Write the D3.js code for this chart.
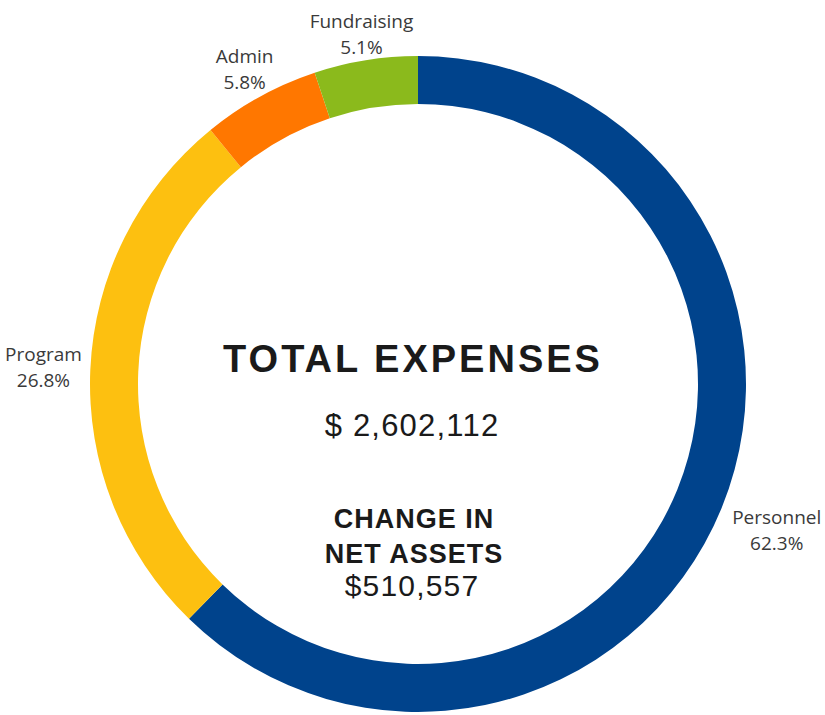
<!DOCTYPE html>
<html>
<head>
<meta charset="utf-8">
<script src="https://cdn.jsdelivr.net/npm/d3@7"></script>
<style>
  body { margin: 0; background: #fff; }
  .label { font-family: "Open Sans", Roboto, sans-serif; font-size: 19px; fill: #3a3a3a; }
  .center { font-family: "Liberation Sans", Arial, sans-serif; fill: #1a1a1a; }
</style>
</head>
<body>
<div id="donut"></div>
<script>
var width = 825;
var height = 715;
var cx = 418;
var cy = 384;
var outer = 328;
var inner = 280;

var categories = ["Personnel", "Program", "Admin", "Fundraising"];
var percents = [62.3, 26.8, 5.8, 5.1];
var colors = ["#00438c", "#fdc010", "#ff7700", "#8bba1c"];

var totalTitle = "TOTAL EXPENSES";
var totalValue = "$ 2,602,112";
var changeTitle = ["CHANGE IN", "NET ASSETS"];
var changeValue = "$510,557";

var data = categories.map(function (c, i) {
  return { name: c, value: percents[i], color: colors[i] };
});

var svg = d3.select("#donut")
  .append("svg")
  .attr("width", width)
  .attr("height", height);

var g = svg.append("g").attr("transform", "translate(" + cx + "," + cy + ")");

var pie = d3.pie().sort(null).value(function (d) { return d.value; });
var arc = d3.arc().innerRadius(inner).outerRadius(outer);
var arcs = pie(data);

g.selectAll("path.slice")
  .data(arcs)
  .enter()
  .append("path")
  .attr("class", "slice")
  .attr("d", arc)
  .attr("fill", function (d) { return d.data.color; });

// labels outside the ring, pushed out by half their width, kept inside the page
var labels = g.selectAll("g.lbl")
  .data(arcs)
  .enter()
  .append("g")
  .attr("class", "lbl");

labels.append("text")
  .attr("class", "label")
  .attr("text-anchor", "middle")
  .attr("y", -6)
  .text(function (d) { return d.data.name; });

labels.append("text")
  .attr("class", "label")
  .attr("text-anchor", "middle")
  .attr("y", 20)
  .text(function (d) { return d.data.value.toFixed(1) + "%"; });

labels.attr("transform", function (d) {
  var a = (d.startAngle + d.endAngle) / 2;
  var w = this.getBBox().width;
  var r = outer + 18 + Math.abs(Math.sin(a)) * w / 2;
  var x = r * Math.sin(a);
  var y = -r * Math.cos(a);
  x = Math.max(x, -cx + 5 + w / 2);
  x = Math.min(x, width - cx - 3 - w / 2);
  return "translate(" + x + "," + y + ")";
});

// center text
var ct = svg.append("g").attr("class", "center");

ct.append("text")
  .attr("x", 413)
  .attr("y", 372)
  .attr("text-anchor", "middle")
  .style("font-size", "38px")
  .style("font-weight", "bold")
  .style("letter-spacing", "3px")
  .text(totalTitle);

ct.append("text")
  .attr("x", 412)
  .attr("y", 436)
  .attr("text-anchor", "middle")
  .style("font-size", "31px")
  .style("letter-spacing", "1.2px")
  .text(totalValue);

ct.selectAll("text.chg")
  .data(changeTitle)
  .enter()
  .append("text")
  .attr("class", "chg")
  .attr("x", 414)
  .attr("y", function (d, i) { return 528 + i * 35; })
  .attr("text-anchor", "middle")
  .style("font-size", "27px")
  .style("font-weight", "bold")
  .style("letter-spacing", "1px")
  .text(function (d) { return d; });

ct.append("text")
  .attr("x", 412)
  .attr("y", 596)
  .attr("text-anchor", "middle")
  .style("font-size", "30px")
  .style("letter-spacing", "1.2px")
  .text(changeValue);
</script>
</body>
</html>
